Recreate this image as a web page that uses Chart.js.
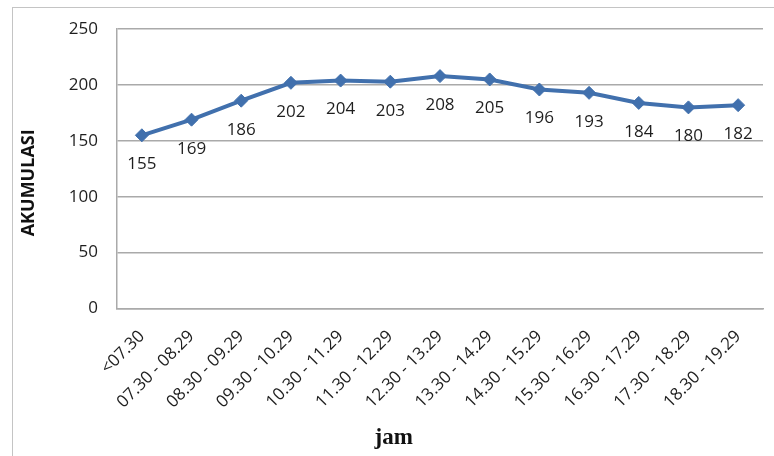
<!DOCTYPE html>
<html>
<head>
<meta charset="utf-8">
<script src="https://cdn.jsdelivr.net/npm/chart.js@4/dist/chart.umd.min.js"></script>
<style>
  html, body { margin: 0; padding: 0; background: #fff; overflow: hidden; }
  #wrap { position: relative; width: 774px; height: 456px; }
  #frame { position: absolute; left: 12px; top: 7px; width: 800px; height: 500px;
           border-left: 1.5px solid #c4c4c4; border-top: 1.5px solid #c4c4c4; }
  canvas { position: absolute; left: 0; top: 0; }
</style>
</head>
<body>
<div id="wrap">
  <div id="frame"></div>
  <canvas id="chart" width="774" height="456"></canvas>
</div>
<script>
// Time slots (jam) and cumulative parking count (akumulasi)
const categories = ['<07.30', '07.30 - 08.29', '08.30 - 09.29', '09.30 - 10.29', '10.30 - 11.29',
  '11.30 - 12.29', '12.30 - 13.29', '13.30 - 14.29', '14.30 - 15.29', '15.30 - 16.29',
  '16.30 - 17.29', '17.30 - 18.29', '18.30 - 19.29'];
const akumulasi = [155, 169, 186, 202, 204, 203, 208, 205, 196, 193, 184, 180, 182];
const yTicks = [0, 50, 100, 150, 200, 250];

const LINE = '#4170ad';
const GRID = '#aaaaaa';
const TEXT = '#1e1e1e';
const SANS = "'Open Sans', 'Liberation Sans', sans-serif";

// Value labels under each point
const valueLabels = {
  id: 'valueLabels',
  afterDatasetsDraw(chart) {
    const ctx = chart.ctx;
    const meta = chart.getDatasetMeta(0);
    ctx.save();
    ctx.font = '17px ' + SANS;
    ctx.fillStyle = TEXT;
    ctx.textAlign = 'center';
    ctx.textBaseline = 'middle';
    meta.data.forEach((pt, i) => {
      ctx.fillText(String(chart.data.datasets[0].data[i]), pt.x, pt.y + 29);
    });
    ctx.restore();
  }
};

new Chart(document.getElementById('chart'), {
  type: 'line',
  data: {
    labels: categories,
    datasets: [{
      data: akumulasi,
      borderColor: LINE,
      backgroundColor: LINE,
      borderWidth: 4,
      tension: 0,
      pointStyle: 'rectRot',
      pointRadius: 6.5,
      pointBackgroundColor: LINE,
      pointBorderColor: LINE,
      pointBorderWidth: 1
    }]
  },
  options: {
    responsive: false,
    animation: false,
    devicePixelRatio: 1,
    layout: { padding: { left: 13, right: 11, top: 29, bottom: 0 } },
    plugins: {
      legend: { display: false },
      tooltip: { enabled: false },
      title: {
        display: true,
        position: 'bottom',
        text: '  jam',
        color: '#111',
        font: { family: "'Liberation Serif', 'Times New Roman', serif", size: 23, weight: 'bold' },
        padding: { top: 0, bottom: 4 }
      }
    },
    scales: {
      x: {
        offset: true,
        grid: { display: false, drawTicks: false },
        border: { display: true, color: GRID, width: 1.5 },
        ticks: {
          autoSkip: false,
          maxRotation: 45,
          minRotation: 45,
          padding: 18,
          color: TEXT,
          font: { family: SANS, size: 17 }
        },
        afterFit(scale) { scale.height = 116; }
      },
      y: {
        min: 0,
        max: 250,
        afterBuildTicks(scale) { scale.ticks = yTicks.map(v => ({ value: v })); },
        grid: { color: GRID, lineWidth: 1.5, drawTicks: false },
        border: { display: true, color: GRID, width: 1.5 },
        ticks: {
          padding: 19,
          color: TEXT,
          font: { family: SANS, size: 17 }
        },
        title: {
          display: true,
          text: 'AKUMULASI      ',
          color: '#111',
          font: { family: SANS, size: 18, weight: 'bold' },
          padding: { top: 5, bottom: 0 }
        },
        afterFit(scale) { scale.width = 104; }
      }
    }
  },
  plugins: [valueLabels]
});
</script>
</body>
</html>
